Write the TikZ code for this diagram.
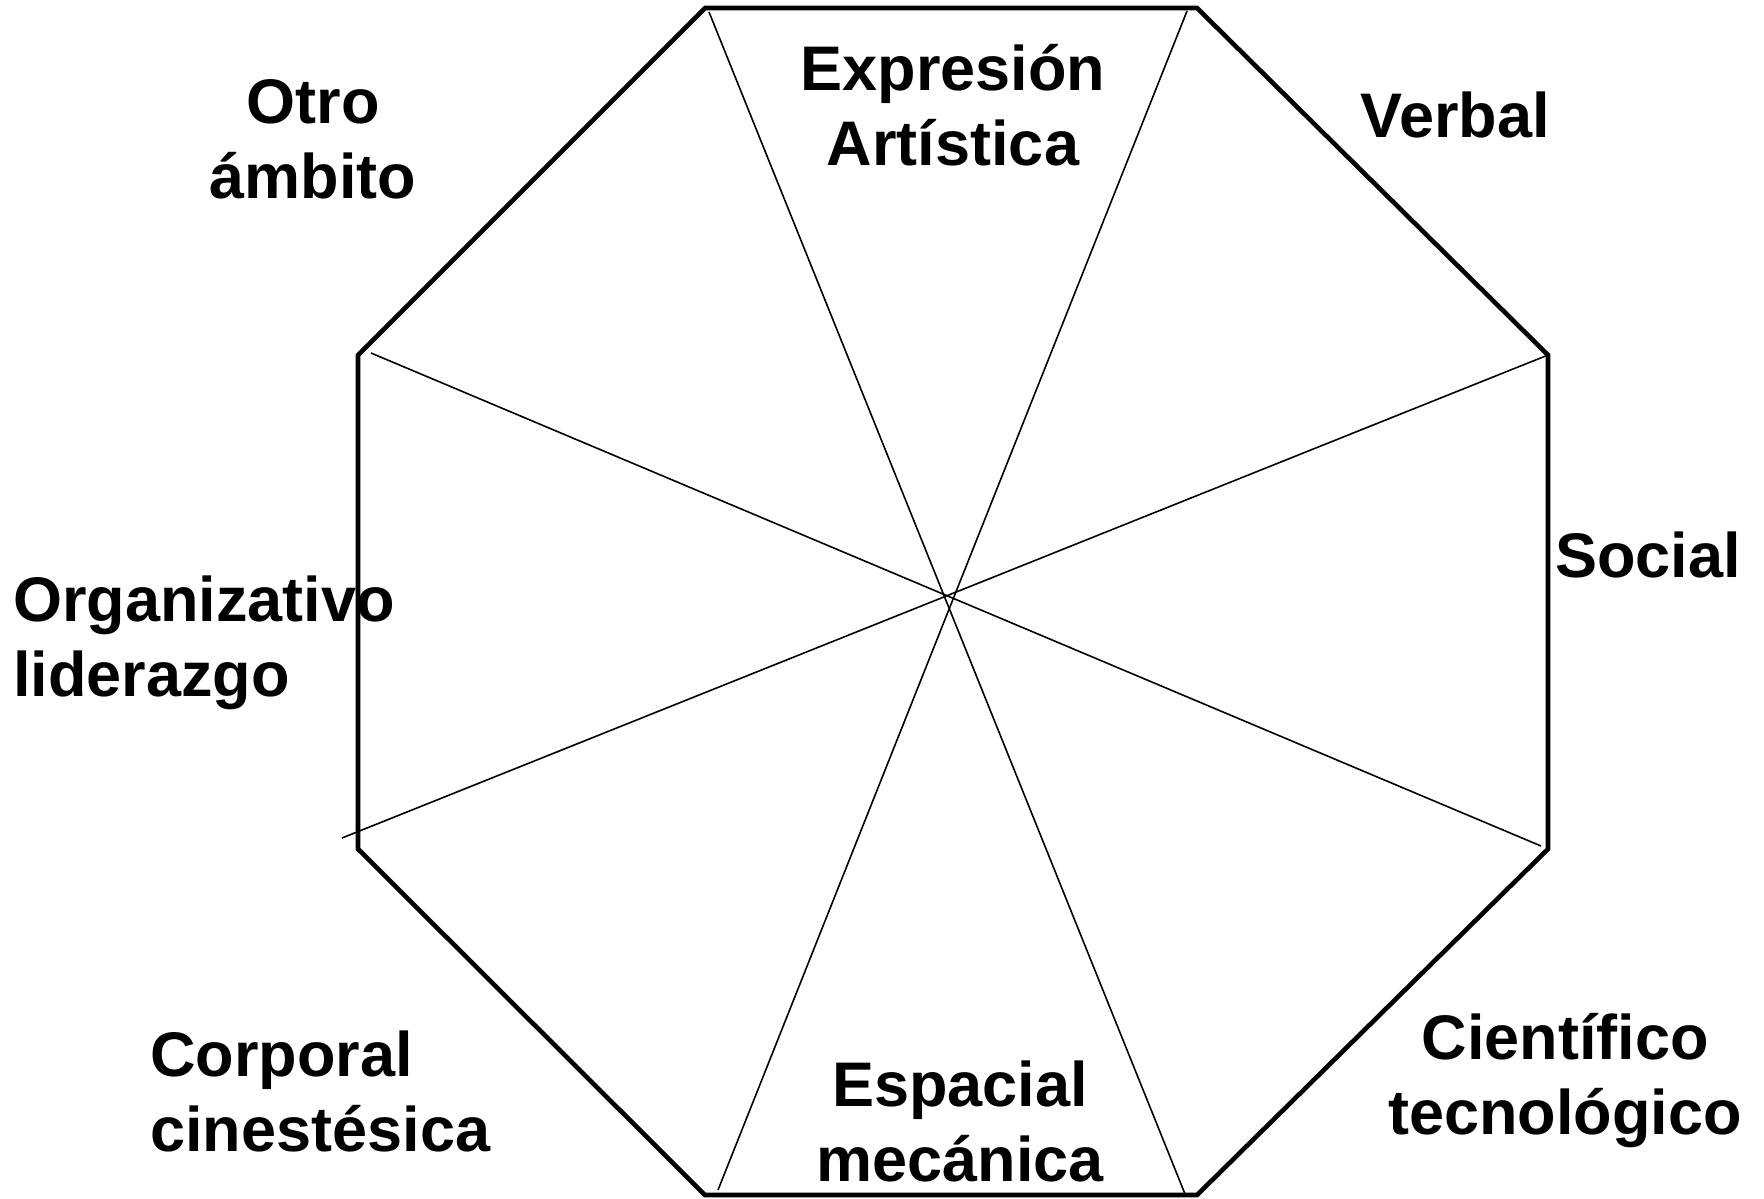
\documentclass[tikz,border=0pt]{standalone}
\usepackage{fontspec}
\setmainfont{Liberation Sans}
\usepackage{tikz}
\def\drawspoke#1#2{
	\draw[line width=.8pt] (#1) -- (#2);}

\begin{document}
\begin{tikzpicture}[x=.5pt,y=-.5pt,font=\fontsize{31.5}{37.5}\selectfont\bfseries,
	lbl/.style={inner sep=0pt,align=center},
	lbll/.style={inner sep=0pt,align=left,anchor=west}]
	\useasboundingbox (0,0) rectangle (1764,1198);
	%八边形顶点
	\coordinate (v1) at (705,8);
	\coordinate (v2) at (1197,8);
	\coordinate (v3) at (1548,355);
	\coordinate (v4) at (1548,849);
	\coordinate (v5) at (1197,1195);
	\coordinate (v6) at (705,1195);
	\coordinate (v7) at (358,849);
	\coordinate (v8) at (358,355);
	\draw[line width=2.3pt] (v1) -- (v2) -- (v3) -- (v4) -- (v5) -- (v6) -- (v7) -- (v8) -- cycle;
	%四条细线,不完全交于一点
	\coordinate (a1) at (709,12);   \coordinate (b1) at (1185,1194);
	\coordinate (a2) at (1187,11);  \coordinate (b2) at (718,1190);
	\coordinate (a3) at (371,353);  \coordinate (b3) at (1541,846);
	\coordinate (a4) at (1548,355); \coordinate (b4) at (342,838);
	\drawspoke{a1}{b1};
	\drawspoke{a2}{b2};
	\drawspoke{a3}{b3};
	\drawspoke{a4}{b4};
	
	%标记节点,添加文字
	\node[lbl] (expresion) at (953,105) {Expresión\\Artística};
	\node[lbl] (verbal) at (1455,115) {Verbal};
	\node[lbl] (otro) at (313,139) {Otro\\ámbito};
	\node[lbll] (social) at (1555,555) {Social};
	\node[lbll] (organizativo) at (13,643) {Organizativo\\liderazgo};
	\node[lbll] (corporal) at (150,1091) {Corporal\\cinestésica};
	\node[lbl] (espacial) at (960,1121) {Espacial\\mecánica};
	\node[lbl] (cientifico) at (1565,1081) {Científico\\tecnológico};
\end{tikzpicture}
\end{document}
